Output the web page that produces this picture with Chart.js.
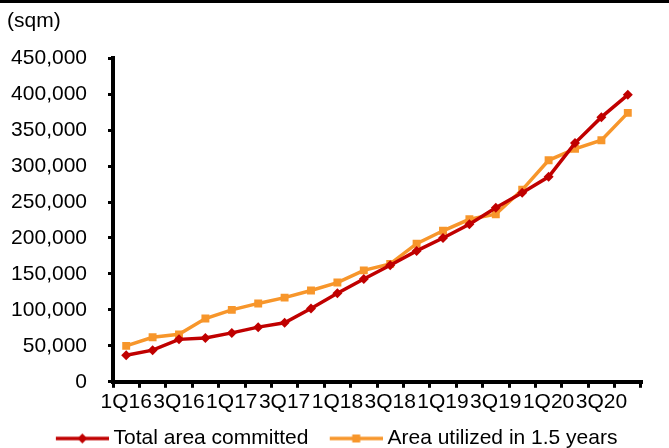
<!DOCTYPE html>
<html>
<head>
<meta charset="utf-8">
<script src="https://cdn.jsdelivr.net/npm/chart.js@4/dist/chart.umd.min.js"></script>
<style>
  html, body { margin: 0; padding: 0; background: #fff; }
  #wrap { position: relative; width: 669px; height: 448px; }
  #topRule { position: absolute; left: 0; top: 0; width: 669px; height: 3px; background: #000; z-index: 2; }
  canvas { position: absolute; left: 0; top: 0; }
</style>
</head>
<body>
<div id="wrap">
  <div id="topRule"></div>
  <canvas id="c" width="669" height="448"></canvas>
</div>
<script>
const categories = [
  '1Q16','2Q16','3Q16','4Q16',
  '1Q17','2Q17','3Q17','4Q17',
  '1Q18','2Q18','3Q18','4Q18',
  '1Q19','2Q19','3Q19','4Q19',
  '1Q20','2Q20','3Q20','4Q20'
];
const totalAreaCommitted = [
  37000, 44000, 59000, 61000,
  68000, 76000, 82000, 102000,
  123000, 143000, 162000, 182000,
  200000, 219000, 242000, 263000,
  285000, 332000, 368000, 399000
];
const areaUtilized = [
  50000, 62000, 66000, 88000,
  100000, 109000, 117000, 127000,
  138000, 155000, 164000, 192000,
  210000, 226000, 233000, 267000,
  308000, 324000, 336000, 374000
];
const seriesNames = ['Total area committed', 'Area utilized in 1.5 years'];
const unitLabel = '(sqm)';
const yMin = 0, yMax = 450000, yStep = 50000;

const RED = '#C00000';
const ORANGE = '#F7962B';
const FONT = "'Liberation Sans', Arial, sans-serif";

function legendIcon(color, shape, leftBlank) {
  const lineLen = 53;
  const w = leftBlank + lineLen, h = 14;
  const cv = document.createElement('canvas');
  cv.width = w; cv.height = h;
  const g = cv.getContext('2d');
  g.strokeStyle = color; g.fillStyle = color; g.lineWidth = 3.5;
  g.beginPath(); g.moveTo(leftBlank, h / 2); g.lineTo(w, h / 2); g.stroke();
  const cx = leftBlank + lineLen / 2, cy = h / 2;
  g.beginPath();
  if (shape === 'diamond') {
    g.moveTo(cx, cy - 5); g.lineTo(cx + 5, cy); g.lineTo(cx, cy + 5); g.lineTo(cx - 5, cy); g.closePath();
  } else {
    g.rect(cx - 4, cy - 4, 8, 8);
  }
  g.fill();
  return cv;
}

const icons = [legendIcon(RED, 'diamond', 17), legendIcon(ORANGE, 'square', 17)];

const shiftLegend = {
  id: 'shiftLegend',
  afterLayout(chart) {
    const lg = chart.legend;
    if (lg) { lg.left += 7; lg.right += 7; lg.top += 2; lg.bottom += 2; }
  }
};

new Chart(document.getElementById('c'), {
  type: 'line',
  data: {
    labels: categories,
    datasets: [
      {
        label: seriesNames[0],
        data: totalAreaCommitted,
        borderColor: RED,
        backgroundColor: RED,
        borderWidth: 3.5,
        pointStyle: 'rectRot',
        pointRadius: 5,
        pointBorderWidth: 0,
        tension: 0,
        fill: false
      },
      {
        label: seriesNames[1],
        data: areaUtilized,
        borderColor: ORANGE,
        backgroundColor: ORANGE,
        borderWidth: 3.5,
        pointStyle: 'rect',
        pointRadius: 5.6,
        pointBorderWidth: 0,
        tension: 0,
        fill: false
      }
    ]
  },
  options: {
    responsive: false,
    animation: false,
    devicePixelRatio: 1,
    layout: { padding: { left: 7, right: 28, top: 0, bottom: -9 } },
    plugins: {
      tooltip: { enabled: false },
      title: {
        display: true,
        text: unitLabel,
        align: 'start',
        color: '#000',
        font: { family: FONT, size: 21, weight: 'normal' },
        padding: { top: 9, bottom: 24 }
      },
      legend: {
        display: true,
        position: 'bottom',
        align: 'center',
        labels: {
          color: '#000',
          font: { family: FONT, size: 21 },
          usePointStyle: true,
          pointStyleWidth: 58.5,
          padding: 10,
          generateLabels(chart) {
            return chart.data.datasets.map((ds, i) => ({
              text: ds.label,
              pointStyle: icons[i],
              fillStyle: ds.borderColor,
              strokeStyle: ds.borderColor,
              lineWidth: 0,
              hidden: false,
              datasetIndex: i,
              fontColor: '#000'
            }));
          }
        }
      }
    },
    scales: {
      x: {
        type: 'category',
        offset: true,
        border: { display: true, color: '#000', width: 4 },
        grid: { display: true, offset: true, drawOnChartArea: false, drawTicks: true, tickLength: 6, color: '#000', lineWidth: 3 },
        ticks: {
          autoSkip: false,
          maxRotation: 0,
          minRotation: 0,
          padding: 1.5,
          color: '#000',
          font: { family: FONT, size: 21 },
          callback(value, index) { return index % 2 === 0 ? categories[index] : ''; }
        }
      },
      y: {
        min: yMin,
        max: yMax,
        border: { display: true, color: '#000', width: 4 },
        grid: { display: true, drawOnChartArea: false, drawTicks: true, tickLength: 5, color: '#000', lineWidth: 3 },
        afterFit(axis) { axis.width = 106; },
        ticks: {
          stepSize: yStep,
          padding: 21,
          color: '#000',
          font: { family: FONT, size: 21 },
          callback(v) { return Number(v).toLocaleString('en-US'); }
        }
      }
    }
  },
  plugins: [shiftLegend]
});
</script>
</body>
</html>
